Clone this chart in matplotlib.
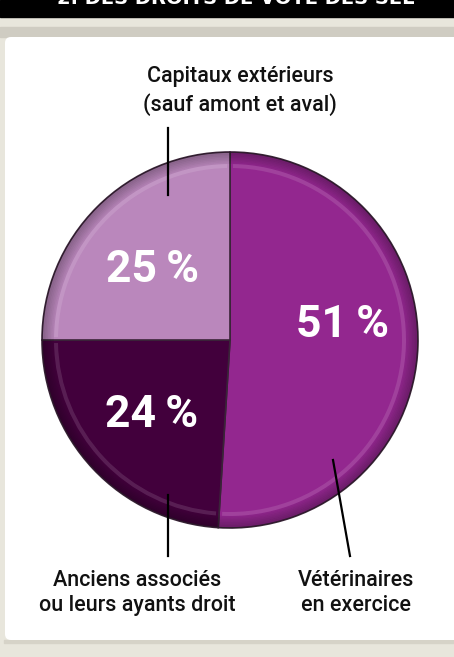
import matplotlib.pyplot as plt
from matplotlib.patches import Rectangle, FancyBboxPatch, Wedge

# data
labels = ['Vétérinaires\nen exercice', 'Anciens associés\nou leurs ayants droit',
          'Capitaux extérieurs\n(sauf amont et aval)']
values = [51, 24, 25]
colors = ['#93278f', '#42003c', '#ba87bc']
title = '2. DES DROITS DE VOTE DES SEL'

W, H = 454, 657
fig = plt.figure(figsize=(W / 100, H / 100), dpi=100, facecolor='#e8e6dc')
ax = fig.add_axes([0, 0, 1, 1])

def Y(y):  # image row -> data y
    return H - y

# background panels
ax.add_patch(Rectangle((0, Y(17)), W, 17, color='black', zorder=1))
ax.add_patch(Rectangle((0, Y(37)), W, 10, color='#cfccc2', zorder=1))
ax.add_patch(FancyBboxPatch((5, Y(640)), W + 20, 603, boxstyle='round,pad=0,rounding_size=6',
                            facecolor='white', edgecolor='none', zorder=2))
ax.add_patch(Rectangle((4, Y(643)), W, 3, color='#d6d3c8', zorder=1.5))
ax.text(236, Y(4), title, color='white', fontsize=14, fontweight='bold',
        ha='center', va='baseline', zorder=3)

# pie
cx, cy, R = 230, Y(340), 188
wedges, _ = ax.pie(values, colors=colors, startangle=90, counterclock=False,
                   center=(cx, cy), radius=R, frame=True,
                   wedgeprops=dict(linewidth=1.2, edgecolor='#3a2438'))
for w in wedges:
    w.set_zorder(4)
    # bevel: darker rim towards the outer edge
    for k in range(8):
        ax.add_patch(Wedge((cx, cy), R - k * 1.5, w.theta1, w.theta2, width=1.5,
                           facecolor='black', alpha=0.28 - k * 0.032, lw=0, zorder=5))
    # light highlight just inside the rim
    ax.add_patch(Wedge((cx, cy), R - 12, w.theta1 + 1, w.theta2 - 1, width=4,
                       facecolor='white', alpha=0.12, lw=0, zorder=5))

pct_font = dict(family=['Roboto', 'DejaVu Sans'], fontsize=32,
                fontweight='bold', color='white', ha='center', va='center', zorder=6)
pct_pos = [(343, 325), (152, 415), (152, 270)]
for v, (px, py) in zip(values, pct_pos):
    ax.text(px, Y(py), f'{v}\u2009%', **pct_font)

# labels with leader lines
lab_font = dict(family=['Roboto', 'DejaVu Sans'], fontsize=15.5, fontweight='medium',
                color='#111111', ha='center', va='center', linespacing=1.3, zorder=6)
lab_pos = [(356, 593), (137, 593), (240, 91)]
leaders = [((333, 460), (350, 556)), ((168, 495), (168, 556)), ((168, 195), (168, 128))]
for lab, (lx, ly), (p0, p1) in zip(labels, lab_pos, leaders):
    ax.text(lx, Y(ly), lab, **lab_font)
    ax.plot([p0[0], p1[0]], [Y(p0[1]), Y(p1[1])], color='black', lw=1.6, zorder=6)

ax.set_xlim(0, W)
ax.set_ylim(0, H)
ax.set_aspect('auto')
ax.axis('off')
fig.savefig('out.png', dpi=100, facecolor=fig.get_facecolor())
